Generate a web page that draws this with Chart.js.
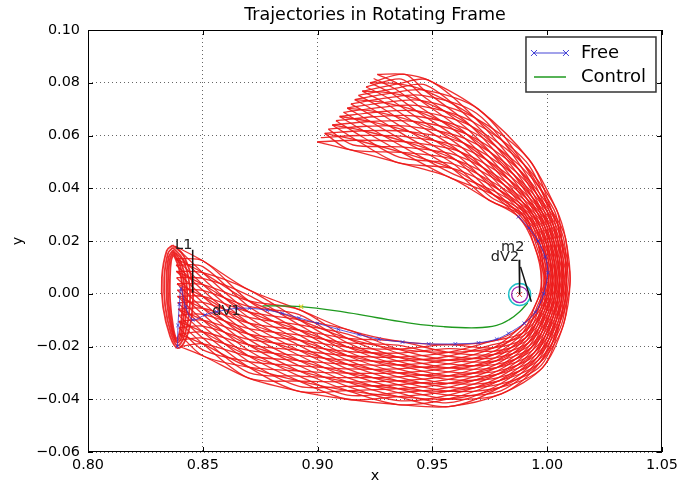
<!DOCTYPE html>
<html lang="en">
<head>
<meta charset="UTF-8">
<title>Trajectories in Rotating Frame</title>
<script src="https://cdn.jsdelivr.net/npm/chart.js"></script>
<style>
  html, body { margin: 0; padding: 0; background: #fff; }
</style>
</head>
<body>
<canvas id="traj" width="683" height="482"></canvas>
<script>
// axis ticks
const xTicks = [0.80, 0.85, 0.90, 0.95, 1.00, 1.05];
const yTicks = [-0.06, -0.04, -0.02, 0.00, 0.02, 0.04, 0.06, 0.08, 0.10];

// manifold tube: 9 rails across the tube (inner edge -> outer edge),
// 18 stations from the L1 orbit to the cut near x = 0.90
const tubeRails = [
  [[0.8380,0.0180],[0.8500,0.0125],[0.8700,0.0015],[0.8920,-0.0060],[0.9130,-0.0136],[0.9350,-0.0180],[0.9570,-0.0193],[0.9760,-0.0180],[0.9880,-0.0130],[0.9950,-0.0040],[0.9975,0.0050],[0.9945,0.0180],[0.9875,0.0292],[0.9745,0.0356],[0.9570,0.0443],[0.9350,0.0497],[0.9140,0.0546],[0.8998,0.0576]],
  [[0.8383,0.0133],[0.8500,0.0080],[0.8700,-0.0027],[0.8920,-0.0099],[0.9130,-0.0169],[0.9350,-0.0210],[0.9570,-0.0222],[0.9765,-0.0205],[0.9893,-0.0149],[0.9965,-0.0050],[0.9991,0.0050],[0.9962,0.0184],[0.9896,0.0295],[0.9767,0.0375],[0.9586,0.0475],[0.9366,0.0536],[0.9170,0.0582],[0.9031,0.0608]],
  [[0.8385,0.0085],[0.8500,0.0035],[0.8700,-0.0069],[0.8920,-0.0138],[0.9130,-0.0202],[0.9350,-0.0240],[0.9570,-0.0252],[0.9770,-0.0230],[0.9905,-0.0168],[0.9980,-0.0060],[1.0006,0.0050],[0.9979,0.0188],[0.9916,0.0299],[0.9789,0.0395],[0.9603,0.0507],[0.9383,0.0576],[0.9200,0.0618],[0.9064,0.0640]],
  [[0.8388,0.0038],[0.8500,-0.0010],[0.8700,-0.0111],[0.8920,-0.0176],[0.9130,-0.0235],[0.9350,-0.0270],[0.9570,-0.0281],[0.9775,-0.0255],[0.9918,-0.0186],[0.9995,-0.0070],[1.0022,0.0050],[0.9996,0.0191],[0.9937,0.0302],[0.9811,0.0414],[0.9619,0.0539],[0.9399,0.0615],[0.9230,0.0653],[0.9096,0.0672]],
  [[0.8390,-0.0010],[0.8500,-0.0055],[0.8700,-0.0153],[0.8920,-0.0215],[0.9130,-0.0268],[0.9350,-0.0300],[0.9570,-0.0311],[0.9780,-0.0280],[0.9930,-0.0205],[1.0010,-0.0080],[1.0038,0.0050],[1.0013,0.0195],[0.9958,0.0306],[0.9833,0.0433],[0.9635,0.0572],[0.9415,0.0654],[0.9260,0.0689],[0.9129,0.0704]],
  [[0.8393,-0.0058],[0.8500,-0.0100],[0.8700,-0.0194],[0.8920,-0.0254],[0.9130,-0.0301],[0.9350,-0.0330],[0.9570,-0.0340],[0.9785,-0.0305],[0.9943,-0.0224],[1.0025,-0.0090],[1.0053,0.0050],[1.0029,0.0199],[0.9978,0.0309],[0.9854,0.0452],[0.9651,0.0604],[0.9431,0.0693],[0.9290,0.0725],[0.9162,0.0736]],
  [[0.8395,-0.0105],[0.8500,-0.0145],[0.8700,-0.0236],[0.8920,-0.0293],[0.9130,-0.0334],[0.9350,-0.0360],[0.9570,-0.0369],[0.9790,-0.0330],[0.9955,-0.0243],[1.0040,-0.0100],[1.0069,0.0050],[1.0046,0.0203],[0.9999,0.0313],[0.9876,0.0472],[0.9668,0.0636],[0.9448,0.0733],[0.9320,0.0761],[0.9195,0.0768]],
  [[0.8398,-0.0153],[0.8500,-0.0190],[0.8700,-0.0278],[0.8920,-0.0331],[0.9130,-0.0367],[0.9350,-0.0390],[0.9570,-0.0399],[0.9795,-0.0355],[0.9968,-0.0261],[1.0055,-0.0110],[1.0084,0.0050],[1.0063,0.0206],[1.0019,0.0316],[0.9898,0.0491],[0.9684,0.0668],[0.9464,0.0772],[0.9350,0.0796],[0.9228,0.0800]],
  [[0.8400,-0.0200],[0.8500,-0.0235],[0.8700,-0.0320],[0.8920,-0.0370],[0.9130,-0.0400],[0.9350,-0.0420],[0.9570,-0.0428],[0.9800,-0.0380],[0.9980,-0.0280],[1.0070,-0.0120],[1.0100,0.0050],[1.0080,0.0210],[1.0040,0.0320],[0.9920,0.0510],[0.9700,0.0700],[0.9480,0.0811],[0.9380,0.0832],[0.9260,0.0832]]
];

// rails lying half way between the ones above
const tubeHalfRails = [
  [[0.8381,0.0156],[0.8500,0.0103],[0.8700,-0.0006],[0.8920,-0.0079],[0.9130,-0.0153],[0.9350,-0.0195],[0.9570,-0.0208],[0.9763,-0.0193],[0.9886,-0.0139],[0.9958,-0.0045],[0.9983,0.0050],[0.9953,0.0182],[0.9885,0.0294],[0.9756,0.0366],[0.9578,0.0459],[0.9358,0.0517],[0.9155,0.0564],[0.9014,0.0592]],
  [[0.8384,0.0109],[0.8500,0.0058],[0.8700,-0.0048],[0.8920,-0.0118],[0.9130,-0.0186],[0.9350,-0.0225],[0.9570,-0.0237],[0.9768,-0.0218],[0.9899,-0.0158],[0.9973,-0.0055],[0.9998,0.0050],[0.9970,0.0186],[0.9906,0.0297],[0.9778,0.0385],[0.9594,0.0491],[0.9374,0.0556],[0.9185,0.0600],[0.9047,0.0624]],
  [[0.8386,0.0061],[0.8500,0.0013],[0.8700,-0.0090],[0.8920,-0.0157],[0.9130,-0.0219],[0.9350,-0.0255],[0.9570,-0.0266],[0.9773,-0.0243],[0.9911,-0.0177],[0.9988,-0.0065],[1.0014,0.0050],[0.9987,0.0189],[0.9927,0.0301],[0.9800,0.0404],[0.9611,0.0523],[0.9391,0.0595],[0.9215,0.0635],[0.9080,0.0656]],
  [[0.8389,0.0014],[0.8500,-0.0033],[0.8700,-0.0132],[0.8920,-0.0196],[0.9130,-0.0252],[0.9350,-0.0285],[0.9570,-0.0296],[0.9778,-0.0268],[0.9924,-0.0196],[1.0003,-0.0075],[1.0030,0.0050],[1.0004,0.0193],[0.9947,0.0304],[0.9822,0.0423],[0.9627,0.0555],[0.9407,0.0634],[0.9245,0.0671],[0.9113,0.0688]],
  [[0.8391,-0.0034],[0.8500,-0.0078],[0.8700,-0.0173],[0.8920,-0.0234],[0.9130,-0.0285],[0.9350,-0.0315],[0.9570,-0.0325],[0.9783,-0.0293],[0.9936,-0.0214],[1.0018,-0.0085],[1.0045,0.0050],[1.0021,0.0197],[0.9968,0.0308],[0.9843,0.0443],[0.9643,0.0588],[0.9423,0.0674],[0.9275,0.0707],[0.9145,0.0720]],
  [[0.8394,-0.0081],[0.8500,-0.0123],[0.8700,-0.0215],[0.8920,-0.0273],[0.9130,-0.0318],[0.9350,-0.0345],[0.9570,-0.0355],[0.9788,-0.0318],[0.9949,-0.0233],[1.0033,-0.0095],[1.0061,0.0050],[1.0038,0.0201],[0.9988,0.0311],[0.9865,0.0462],[0.9659,0.0620],[0.9439,0.0713],[0.9305,0.0743],[0.9178,0.0752]],
  [[0.8396,-0.0129],[0.8500,-0.0168],[0.8700,-0.0257],[0.8920,-0.0312],[0.9130,-0.0351],[0.9350,-0.0375],[0.9570,-0.0384],[0.9793,-0.0343],[0.9961,-0.0252],[1.0048,-0.0105],[1.0077,0.0050],[1.0055,0.0204],[1.0009,0.0315],[0.9887,0.0481],[0.9676,0.0652],[0.9456,0.0752],[0.9335,0.0778],[0.9211,0.0784]],
  [[0.8399,-0.0176],[0.8500,-0.0213],[0.8700,-0.0299],[0.8920,-0.0351],[0.9130,-0.0384],[0.9350,-0.0405],[0.9570,-0.0413],[0.9798,-0.0368],[0.9974,-0.0271],[1.0063,-0.0115],[1.0092,0.0050],[1.0072,0.0208],[1.0030,0.0318],[0.9909,0.0500],[0.9692,0.0684],[0.9472,0.0791],[0.9365,0.0814],[0.9244,0.0816]]
];

// which rail each red trajectory sits on at each station
const tubeStrands = [
  [0,1,2,3,4,5,6,7,8,7,6,5,4,3,2,1,0,1],
  [1,2,3,4,5,6,7,8,7,6,5,4,3,2,1,0,1,2],
  [2,3,4,5,6,7,8,7,6,5,4,3,2,1,0,1,2,3],
  [3,4,5,6,7,8,7,6,5,4,3,2,1,0,1,2,3,4],
  [4,5,6,7,8,7,6,5,4,3,2,1,0,1,2,3,4,5],
  [5,6,7,8,7,6,5,4,3,2,1,0,1,2,3,4,5,6],
  [6,7,8,7,6,5,4,3,2,1,0,1,2,3,4,5,6,7],
  [7,8,7,6,5,4,3,2,1,0,1,2,3,4,5,6,7,8],
  [8,7,6,5,4,3,2,1,0,1,2,3,4,5,6,7,8,7],
  [7,6,5,4,3,2,1,0,1,2,3,4,5,6,7,8,7,6],
  [6,5,4,3,2,1,0,1,2,3,4,5,6,7,8,7,6,5],
  [5,4,3,2,1,0,1,2,3,4,5,6,7,8,7,6,5,4],
  [4,3,2,1,0,1,2,3,4,5,6,7,8,7,6,5,4,3],
  [3,2,1,0,1,2,3,4,5,6,7,8,7,6,5,4,3,2],
  [2,1,0,1,2,3,4,5,6,7,8,7,6,5,4,3,2,1],
  [1,0,1,2,3,4,5,6,7,8,7,6,5,4,3,2,1,0]
];

// same for the trajectories running on the half-way rails
const tubeHalfStrands = [
  [0,1,2,3,4,5,6,7,6,5,4,3,2,1,0,1,2,3],
  [1,2,3,4,5,6,7,6,5,4,3,2,1,0,1,2,3,4],
  [2,3,4,5,6,7,6,5,4,3,2,1,0,1,2,3,4,5],
  [3,4,5,6,7,6,5,4,3,2,1,0,1,2,3,4,5,6],
  [4,5,6,7,6,5,4,3,2,1,0,1,2,3,4,5,6,7],
  [5,6,7,6,5,4,3,2,1,0,1,2,3,4,5,6,7,6],
  [6,7,6,5,4,3,2,1,0,1,2,3,4,5,6,7,6,5],
  [7,6,5,4,3,2,1,0,1,2,3,4,5,6,7,6,5,4],
  [6,5,4,3,2,1,0,1,2,3,4,5,6,7,6,5,4,3],
  [5,4,3,2,1,0,1,2,3,4,5,6,7,6,5,4,3,2],
  [4,3,2,1,0,1,2,3,4,5,6,7,6,5,4,3,2,1],
  [3,2,1,0,1,2,3,4,5,6,7,6,5,4,3,2,1,0],
  [2,1,0,1,2,3,4,5,6,7,6,5,4,3,2,1,0,1],
  [1,0,1,2,3,4,5,6,7,6,5,4,3,2,1,0,1,2]
];

// periodic orbit loops around L1
const l1Loops = [
  [[0.8369,0.0184],[0.8418,0.0142],[0.8454,0.0040],[0.8452,-0.0082],[0.8423,-0.0178],[0.8390,-0.0206],[0.8358,-0.0162],[0.8327,-0.0050],[0.8322,0.0062],[0.8343,0.0163],[0.8369,0.0184]],
  [[0.8369,0.0175],[0.8412,0.0132],[0.8442,0.0036],[0.8440,-0.0076],[0.8416,-0.0168],[0.8389,-0.0196],[0.8362,-0.0152],[0.8336,-0.0046],[0.8332,0.0060],[0.8348,0.0152],[0.8369,0.0175]],
  [[0.8370,0.0165],[0.8405,0.0120],[0.8430,0.0030],[0.8428,-0.0070],[0.8410,-0.0160],[0.8388,-0.0185],[0.8365,-0.0140],[0.8345,-0.0040],[0.8342,0.0060],[0.8352,0.0140],[0.8370,0.0165]],
  [[0.8371,0.0158],[0.8400,0.0110],[0.8421,0.0025],[0.8419,-0.0070],[0.8404,-0.0155],[0.8386,-0.0178],[0.8367,-0.0130],[0.8351,-0.0035],[0.8349,0.0060],[0.8357,0.0132],[0.8371,0.0158]],
  [[0.8372,0.0150],[0.8395,0.0100],[0.8412,0.0020],[0.8410,-0.0070],[0.8398,-0.0150],[0.8385,-0.0170],[0.8370,-0.0120],[0.8358,-0.0030],[0.8357,0.0060],[0.8362,0.0125],[0.8372,0.0150]]
];

// free (uncontrolled) trajectory
const freePath = [
  [0.8390,-0.0200],[0.8392,-0.0120],[0.8398,-0.0040],[0.8405,0.0020],[0.8425,-0.0050],[0.8456,-0.0099],
  [0.8510,-0.0080],[0.8560,-0.0068],[0.8647,-0.0055],[0.8703,-0.0055],[0.8780,-0.0062],[0.8846,-0.0074],
  [0.8920,-0.0092],[0.9000,-0.0112],[0.9090,-0.0135],[0.9180,-0.0155],[0.9267,-0.0172],[0.9370,-0.0183],
  [0.9484,-0.0190],[0.9600,-0.0190],[0.9701,-0.0186],[0.9780,-0.0172],[0.9832,-0.0150],[0.9900,-0.0112],
  [0.9949,-0.0070],[0.9985,0.0000],[1.0003,0.0080],[0.9992,0.0140],[0.9960,0.0200],[0.9920,0.0250],[0.9875,0.0292]
];

// controlled trajectory
const controlPath = [
  [0.8760,-0.0046],[0.8928,-0.0049],[0.9118,-0.0070],[0.9260,-0.0091],[0.9410,-0.0112],[0.9550,-0.0125],
  [0.9693,-0.0129],[0.9780,-0.0120],[0.9835,-0.0098],[0.9880,-0.0068],[0.9915,-0.0035]
];
const controlStart = [0.8928, -0.0049];

// m2 and annotations
const moonPos = [0.9880, -0.0003];
const l1Line = [[0.8456,0.0167],[0.8456,0.0004]];
const m2Line = [[0.9878,0.0129],[0.9880,-0.0003]];
const dv2Line = [[0.9884,0.0102],[0.9931,-0.0030]];
const noteLabels = ['L1', 'dV1', 'm2', 'dV2'];
const noteX = [0.8417, 0.8603, 0.9850, 0.9816];
const noteY = [0.0185, -0.0068, 0.0178, 0.0137];

const pt = ([x, y]) => ({ x, y });
const RED = 'rgba(236,24,24,0.9)';
const datasets = [];

const redLine = (data, width, tension) => ({
  data, showLine: true, borderColor: RED, borderWidth: width,
  pointRadius: 0, tension, order: 10
});
tubeStrands.forEach(strand => {
  datasets.push(redLine(strand.map((r, s) => pt(tubeRails[r][s])), 1.3, 0.3));
});
tubeHalfStrands.forEach(strand => {
  datasets.push(redLine(strand.map((r, s) => pt(tubeHalfRails[r][s])), 1.3, 0.3));
});
tubeRails.forEach(rail => datasets.push(redLine(rail.map(pt), 1.3, 0.3)));
l1Loops.forEach(loop => datasets.push(redLine(loop.map(pt), 1.8, 0.4)));

datasets.push({
  label: 'Free', data: freePath.map(pt), showLine: true,
  borderColor: 'rgba(50,50,210,0.8)', borderWidth: 1,
  pointStyle: 'crossRot', pointRadius: 2.5, pointBorderColor: 'rgba(50,50,210,0.8)',
  pointBorderWidth: 1, tension: 0.3, order: 5
});
datasets.push({
  label: 'Control', data: controlPath.map(pt), showLine: true,
  borderColor: '#1f9a1f', borderWidth: 1.3, pointRadius: 0, tension: 0.4, order: 4
});
datasets.push({
  data: [pt(controlStart)], pointStyle: 'crossRot', pointRadius: 3,
  pointBorderColor: '#d8d030', pointBorderWidth: 1.2, order: 3
});
// m2: cyan and magenta rings, red cross
datasets.push({ data: [pt(moonPos)], pointStyle: 'circle', pointRadius: 11,
  pointBorderColor: '#20c0c8', pointBackgroundColor: 'rgba(0,0,0,0)', pointBorderWidth: 1.5, order: 3 });
datasets.push({ data: [pt(moonPos)], pointStyle: 'circle', pointRadius: 8,
  pointBorderColor: '#a020b0', pointBackgroundColor: 'rgba(0,0,0,0)', pointBorderWidth: 1.3, order: 3 });
datasets.push({ data: [pt(moonPos)], pointStyle: 'crossRot', pointRadius: 3.5,
  pointBorderColor: '#f04040', pointBorderWidth: 1, order: 3 });
[l1Line, m2Line, dv2Line].forEach(seg => {
  datasets.push({ data: seg.map(pt), showLine: true, borderColor: '#111', borderWidth: 1.5,
    pointRadius: 0, order: 2 });
});

const FONT = 'DejaVu Sans';
const fmt = v => (v < -1e-9 ? '\u2212' : '') + Math.abs(v).toFixed(2);

const decor = {
  id: 'decor',
  afterDraw(chart) {
    const { ctx, chartArea: a, scales } = chart;
    const xs = scales.x, ys = scales.y;
    ctx.save();
    // frame
    ctx.strokeStyle = '#000';
    ctx.lineWidth = 1;
    ctx.strokeRect(a.left + 0.5, a.top + 0.5, a.right - a.left - 1, a.bottom - a.top - 1);
    // inward ticks on all sides
    ctx.beginPath();
    xTicks.forEach(v => {
      const px = Math.round(xs.getPixelForValue(v)) + 0.5;
      ctx.moveTo(px, a.bottom); ctx.lineTo(px, a.bottom - 5);
      ctx.moveTo(px, a.top); ctx.lineTo(px, a.top + 5);
    });
    yTicks.forEach(v => {
      const py = Math.round(ys.getPixelForValue(v)) + 0.5;
      ctx.moveTo(a.left, py); ctx.lineTo(a.left + 5, py);
      ctx.moveTo(a.right, py); ctx.lineTo(a.right - 5, py);
    });
    ctx.stroke();

    // annotation texts
    ctx.fillStyle = '#222';
    ctx.font = '14.5px "' + FONT + '"';
    ctx.textAlign = 'center';
    ctx.textBaseline = 'middle';
    noteLabels.forEach((t, i) => {
      ctx.fillText(t, xs.getPixelForValue(noteX[i]), ys.getPixelForValue(noteY[i]));
    });

    // title and axis labels
    ctx.fillStyle = '#000';
    ctx.font = '17.5px "' + FONT + '"';
    ctx.fillText('Trajectories in Rotating Frame', (a.left + a.right) / 2, 15);
    ctx.font = '14.4px "' + FONT + '"';
    ctx.fillText('x', (a.left + a.right) / 2, 476);
    ctx.save();
    ctx.translate(18, (a.top + a.bottom) / 2);
    ctx.rotate(-Math.PI / 2);
    ctx.fillText('y', 0, 0);
    ctx.restore();

    // legend box
    const bx = a.right - 136, by = a.top + 7, bw = 130, bh = 55;
    ctx.fillStyle = '#fff';
    ctx.fillRect(bx, by, bw, bh);
    ctx.strokeStyle = '#333';
    ctx.lineWidth = 1.5;
    ctx.strokeRect(bx, by, bw, bh);
    const l0 = bx + 8, l1 = bx + 40;
    const y1 = by + 16, y2 = by + 40;
    ctx.lineWidth = 1;
    ctx.strokeStyle = 'rgba(50,50,210,0.9)';
    ctx.beginPath();
    ctx.moveTo(l0, y1); ctx.lineTo(l1, y1);
    [l0, l1].forEach(cx => {
      ctx.moveTo(cx - 3, y1 - 3); ctx.lineTo(cx + 3, y1 + 3);
      ctx.moveTo(cx - 3, y1 + 3); ctx.lineTo(cx + 3, y1 - 3);
    });
    ctx.stroke();
    ctx.strokeStyle = '#1f9a1f';
    ctx.lineWidth = 1.3;
    ctx.beginPath();
    ctx.moveTo(l0, y2); ctx.lineTo(l1, y2);
    ctx.stroke();
    ctx.fillStyle = '#000';
    ctx.font = '18px "' + FONT + '"';
    ctx.textAlign = 'left';
    ctx.fillText('Free', bx + 55, y1);
    ctx.fillText('Control', bx + 55, y2);
    ctx.restore();
  }
};

const tickFont = { family: FONT, size: 14.4 };

new Chart(document.getElementById('traj'), {
  type: 'scatter',
  data: { datasets },
  options: {
    responsive: false,
    animation: false,
    events: [],
    layout: { padding: { left: 0, right: 19, top: 30, bottom: 0 } },
    plugins: { legend: { display: false }, tooltip: { enabled: false } },
    scales: {
      x: {
        type: 'linear', min: 0.80, max: 1.05,
        afterBuildTicks: s => { s.ticks = xTicks.map(v => ({ value: v })); },
        afterFit: s => { s.height = 30; },
        ticks: { callback: v => fmt(Number(v)), color: '#000', font: tickFont, padding: 5, maxRotation: 0, autoSkip: false },
        grid: { color: 'rgba(0,0,0,0.6)', lineWidth: 1, drawTicks: false },
        border: { display: false, dash: [1, 3] }
      },
      y: {
        type: 'linear', min: -0.06, max: 0.10,
        afterBuildTicks: s => { s.ticks = yTicks.map(v => ({ value: v })); },
        afterFit: s => { s.width = 88; },
        ticks: { callback: v => fmt(Number(v)), color: '#000', font: tickFont, padding: 8, autoSkip: false },
        grid: { color: 'rgba(0,0,0,0.6)', lineWidth: 1, drawTicks: false },
        border: { display: false, dash: [1, 3] }
      }
    }
  },
  plugins: [decor]
});
</script>
</body>
</html>
